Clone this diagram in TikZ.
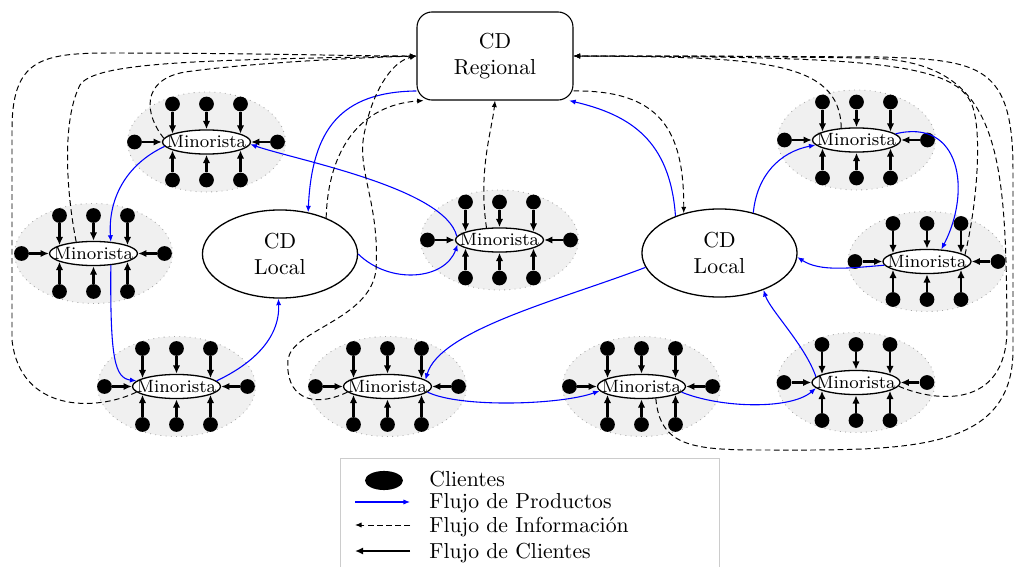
\documentclass[tikz,border=0pt]{standalone}
\usetikzlibrary{arrows.meta,shapes.geometric,calc}
\tikzset{
  clusterbg/.style={ellipse, draw=gray!70, dotted, fill=gray!12, minimum width=72.8pt, minimum height=46.1pt, inner sep=0pt},
  mino/.style={ellipse, draw, line width=0.6pt, fill=white, minimum width=40.6pt, minimum height=11.1pt, inner sep=0pt, font=\fontsize{8.2}{10}\selectfont},
  cdot/.style={circle, fill=black, minimum size=6.8pt, inner sep=0pt},
  cli/.style={line width=0.95pt, -{Latex[length=3.8pt,width=3.4pt]}},
  prod/.style={blue, line width=0.5pt, -{Latex[length=3pt,width=2.4pt]}},
  info/.style={black, line width=0.45pt, dash pattern=on 2.6pt off 1.6pt, -{Latex[length=3pt,width=2.4pt]}},
  cdr/.style={rectangle, draw, line width=0.5pt, rounded corners=7pt, minimum width=71.9pt, minimum height=40.6pt, align=center, fill=white},
  cdl/.style={ellipse, draw, line width=0.6pt, minimum width=71.5pt, minimum height=40.6pt, align=center, fill=white},
  legcl/.style={ellipse, fill=black, minimum width=17.5pt, minimum height=8.8pt, inner sep=0pt},
  legtxt/.style={inner sep=0pt, anchor=base west},
  legbox/.style={draw=gray!40, line width=0.5pt, minimum width=174.7pt, minimum height=60pt, anchor=north west, inner sep=0pt}
}
\newcommand\mycluster[3]{%
  \node[clusterbg] (#1bg) at (#2,#3) {};
  \node[mino] (#1) at (#2,#3) {\makebox[0pt]{Minorista}};
  \foreach \dx/\k/\h in {-34/1/8.3, 0/2/12.8, 34/3/8.3}{
    \node[cdot] (#1t\k) at (#2+\dx,#3-38) {};
    \coordinate (#1ta\k) at (#2+\dx,#3-\h);
    \draw[cli] (#1t\k) -- (#1ta\k);
    \node[cdot] (#1b\k) at (#2+\dx,#3+38) {};
    \coordinate (#1ba\k) at (#2+\dx,#3+\h);
    \draw[cli] (#1b\k) -- (#1ba\k);
  }
  \node[cdot] (#1l) at (#2-72,#3) {};
  \draw[cli] (#1l) -- (#1.west);
  \node[cdot] (#1r) at (#2+71,#3) {};
  \draw[cli] (#1r) -- (#1.east);
}
\begin{document}
\begin{tikzpicture}[x=0.461pt,y=-0.461pt]
\useasboundingbox (0,0) rectangle (1015,567);

% clusters
\mycluster{M1}{206.5}{142}
\mycluster{M2}{93.5}{253.5}
\mycluster{M3}{176.5}{386.5}
\mycluster{M4}{499.5}{240}
\mycluster{M5}{387.5}{386.5}
\mycluster{M6}{641.5}{386.5}
\mycluster{M7}{856.5}{140}
\mycluster{M8}{927}{261.5}
\mycluster{M9}{856}{382.5}

% distribution centres
\node[cdr] (CDR) at (495,56) {CD\\Regional};
\node[cdl] (CDLl) at (280,254) {CD\\Local};
\node[cdl] (CDLr) at (719.5,253) {CD\\Local};

% product flow
\draw[prod] (CDR.204) .. controls (340,92) and (312,130) .. (CDLl.56);
\draw[prod] (CDLr.140) .. controls (670,140) and (630,115) .. (CDR.-31.6);
\draw[prod] (M1.186) .. controls (125,165) and (108,200) .. (M2.34);
\draw[prod] (M4.175) .. controls (445,188) and (296,160) .. (M1.-3);
\draw[prod] (CDLl.0) .. controls (390,285) and (445,280) .. (M4.186);
\draw[prod] (M2.-34) .. controls (110,360) and (115,378) .. (M3.172);
\draw[prod] (M3.8) .. controls (250,365) and (280,340) .. (CDLl.268);
\draw[prod] (CDLr.191) .. controls (560,300) and (440,330) .. (M5.10);
\draw[prod] (M5.-8) .. controls (460,408) and (560,405) .. (M6.186);
\draw[prod] (M6.-8) .. controls (720,408) and (790,410) .. (M9.188);
\draw[prod] (M9.172) .. controls (805,345) and (770,310) .. (CDLr.-40);
\draw[prod] (CDLr.50) .. controls (757,175) and (780,152) .. (M7.187);
\draw[prod] (M7.9) .. controls (960,118) and (972,190) .. (M8.40);
\draw[prod] (M8.185) .. controls (850,268) and (820,272) .. (CDLr.-3);

% information flow
\draw[info] (CDR.-24) .. controls (660,90) and (684,130) .. (CDLr.132);
\draw[info] (CDLl.38) .. controls (328,150) and (360,105) .. (CDR.212);
\draw[info] (M4.137) .. controls (478,170) and (492,130) .. (CDR.south);
\draw[info] (M1.175) .. controls (145,115) and (140,80) .. (185,72)
  .. controls (250,63) and (350,58) .. (CDR.west);
\draw[info] (M2.146) .. controls (66,190) and (62,120) .. (80,85)
  .. controls (95,62) and (200,60) .. (CDR.west);
\draw[info] (M3.188) .. controls (95,412) and (20,412) .. (12,340) -- (12,130)
  .. controls (12,60) and (40,53) .. (110,53) .. controls (250,53) and (350,56) .. (CDR.west);
\draw[info] (M5.188) .. controls (310,410) and (285,395) .. (288,360)
  .. controls (291,330) and (370,320) .. (376,270)
  .. controls (380,200) and (355,170) .. (365,130)
  .. controls (372,95) and (390,62) .. (CDR.west);
\draw[info] (M7.142) .. controls (840,60) and (760,57) .. (CDR.east);
\draw[info] (M8.10) .. controls (978,200) and (982,130) .. (972,105)
  .. controls (955,60) and (850,57) .. (CDR.east);
\draw[info] (M9.-5) .. controls (935,402) and (1006,410) .. (1007,330)
  .. controls (1006,150) and (1000,62) .. (870,58) .. controls (700,56) .. (CDR.east);
\draw[info] (M6.-40) .. controls (660,445) and (690,450) .. (760,450)
  .. controls (900,450) and (1013,455) .. (1013,350) -- (1013,170)
  .. controls (1013,65) and (980,60) .. (880,57) .. controls (700,56) .. (CDR.east);

% legend
\node[legbox] (leg) at (340,458) {};
\node[legcl] (lcl) at (384,480.5) {};
\node[legtxt] (lt1) at (429,486) {Clientes};
\coordinate (lp1) at (355,502);
\coordinate (lp2) at (410,502);
\draw[prod] (lp1) -- (lp2);
\node[legtxt] (lt2) at (429,508) {Flujo de Productos};
\coordinate (li1) at (355,525);
\coordinate (li2) at (410,525);
\draw[info] (li2) -- (li1);
\node[legtxt] (lt3) at (429,532) {Flujo de Información};
\coordinate (lf1) at (355,551);
\coordinate (lf2) at (410,551);
\draw[cli] (lf2) -- (lf1);
\node[legtxt] (lt4) at (429,558) {Flujo de Clientes};
\end{tikzpicture}
\end{document}
